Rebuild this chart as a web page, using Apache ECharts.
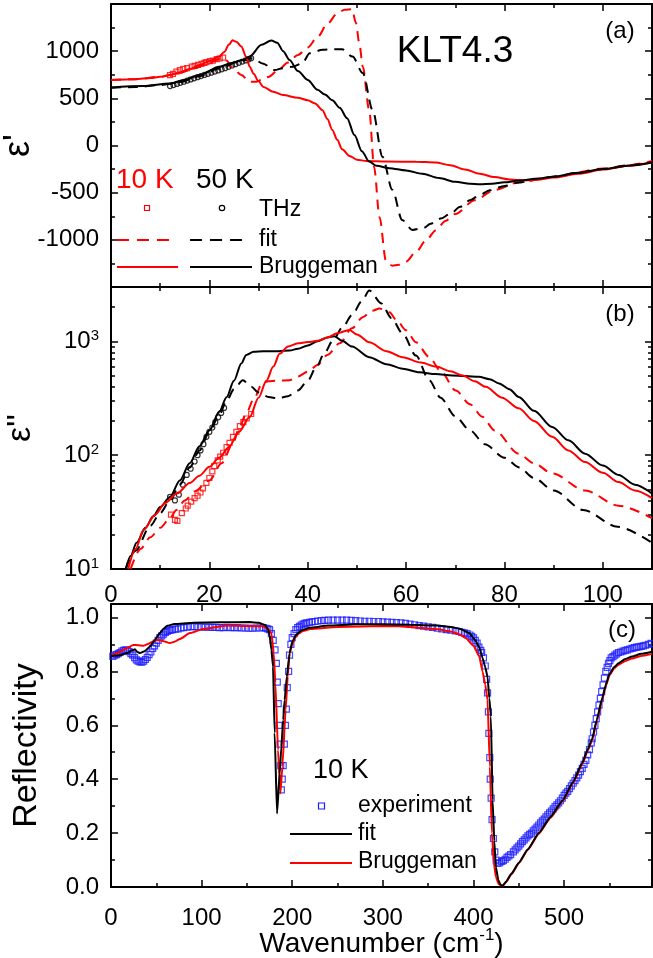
<!DOCTYPE html>
<html>
<head>
<meta charset="utf-8">
<script src="https://cdn.jsdelivr.net/npm/echarts@6/dist/echarts.min.js"></script>
<style>
html, body { margin: 0; padding: 0; background: #fff; }
#chart { width: 653px; height: 958px; }
</style>
</head>
<body>
<div id="chart"></div>
<script>
// ---- (a) epsilon' : [wavenumber, value]
var epsReBrug10K = [[0,695],[5,703],[8,715],[10,728],[12,748],[14,775],[16,810],[18,854],[20,895],[22,943],[23,990],[24,1070],[24.7,1115],[25.5,1100],[26.5,1050],[27.5,940],[28.2,836],[29,760],[30,680],[31,620],[33,570],[35,535],[38,505],[40,480],[41.5,445],[43,375],[44,280],[45,165],[46,60],[47,-40],[48.5,-110],[50,-150],[52,-165],[56,-170],[62,-172],[66,-180],[69,-210],[72,-255],[75,-300],[78,-335],[81,-360],[84,-370],[87,-362],[90,-340],[95,-300],[100,-255],[105,-215],[110,-178]];
var epsReBrug50K = [[0,616],[6.5,631],[12,658],[15,695],[18,748],[22,836],[24.5,875],[26.8,907],[28.2,943],[30.6,1067],[32.6,1113],[33.8,1090],[35,1000],[36.3,907],[38,790],[40,695],[42,590],[43.5,540],[45,480],[46.5,400],[48,290],[49.5,110],[51,-60],[52.5,-170],[54,-215],[56.6,-240],[60,-265],[63.3,-300],[66.7,-345],[70,-385],[73,-405],[75,-410],[77.5,-405],[80,-390],[83,-372],[87,-350],[90,-330],[95,-290],[100,-250],[105,-215],[110,-180]];
var epsReFit10K = [[0,695],[5,703],[10,728],[14,770],[17,820],[20,880],[22.7,930],[23.5,900],[24.5,835],[26.5,748],[28.2,677],[29.5,675],[30.6,695],[32,727],[34,800],[36,880],[38,960],[40,1040],[42,1150],[44,1290],[46,1400],[47.5,1440],[49,1445],[49.8,1300],[50.5,1080],[51.2,835],[52.5,375],[53.5,-230],[54.6,-760],[55.9,-1220],[57.2,-1275],[58.5,-1265],[60,-1230],[62,-1130],[64,-1010],[66,-900],[68,-800],[70,-725],[74,-580],[78,-470],[83,-390],[90,-330],[100,-245],[110,-165]];
var epsReFit50K = [[0,612],[5,620],[10,640],[14,672],[18,735],[22,815],[26,890],[28.8,925],[30.8,870],[33.3,800],[34.9,820],[37,836],[38.9,872],[40.4,978],[43,1015],[45,1020],[47,1020],[49.1,943],[51.2,768],[53.2,375],[55.2,-120],[57.2,-470],[59.2,-790],[61.3,-895],[63.5,-875],[65,-830],[67,-775],[69,-725],[71,-650],[73,-580],[75,-525],[77,-475],[80,-430],[83,-392],[87,-355],[90,-330],[95,-290],[100,-250],[105,-212],[110,-175]];
var epsReTHz10K = [[12.0,745],[12.6,760],[13.3,783],[14.0,800],[14.7,812],[15.5,820],[16.4,836],[17.0,844],[17.7,854],[18.4,866],[19.0,876],[19.4,883],[20.1,894],[20.7,900],[21.5,915],[22.1,922],[22.8,932]];
var epsReTHz50K = [[12,630],[12.7,641],[13.4,653],[14.1,664],[14.8,676],[15.5,688],[16.2,700],[16.9,712],[17.6,724],[18.3,736],[19,748],[19.7,760],[20.4,772],[21.1,784],[21.8,796],[22.5,807],[23.2,820],[23.9,834],[24.6,848],[25.3,862],[26,876],[26.7,890],[27.4,902],[28,913],[28.5,925]];

// ---- (b) epsilon'' : [wavenumber, value]
var epsImBrug10K = [[3.5,10],[5,15],[6.6,22],[9,30],[11,38],[13.4,46],[16,57],[18,66],[20,79],[22,95],[24,118],[26,160],[28.2,216],[30,320],[31.6,450],[33,600],[34.3,780],[36,900],[38,960],[40,985],[42,1010],[44,1080],[46,1180],[48.5,1260],[50,1150],[52.5,980],[56,820],[59.3,725],[63,650],[66.1,600],[69,545],[71.5,500],[74,445],[76.2,398],[79.5,320],[82.9,258],[86,200],[89.7,145],[93,110],[96.4,87],[100,70],[103.2,58],[106.5,49],[110,42]];
var epsImBrug50K = [[3,10],[4,13],[5.2,17],[7,23],[8.6,29],[10,35],[12,43],[14,60],[16,85],[18,120],[20,165],[22,240],[23.5,323],[25,450],[26.5,640],[27.5,760],[29,810],[31,820],[34,820],[36.3,830],[38,860],[40,920],[42,1000],[44,1080],[45.4,1110],[47,1010],[49,900],[52.5,725],[56,630],[59.3,575],[62.7,535],[66,515],[69.4,500],[72,495],[74.8,488],[77,465],[78.9,427],[81,380],[82.9,325],[86,245],[89.7,177],[93,135],[96.4,103],[100,81],[103.2,67],[106.5,55],[110,46]];
var epsImFit10K = [[4,10],[6,15],[8,19],[10,23],[12,28],[13.3,33],[15,40],[17,48],[20,60],[22.5,85],[24.8,127],[26,170],[27.5,233],[29,310],[30.8,430],[32,445],[33.7,450],[36.3,455],[38,490],[40,540],[42,620],[44,760],[46.5,960],[49,1300],[51.2,1630],[53,1850],[54.6,1940],[56.6,1800],[58,1550],[60,1250],[62,980],[64.7,730],[67,550],[70.1,370],[73,280],[75.5,217],[78,165],[82.9,103],[86,85],[89.7,69],[96.4,49],[103.2,36],[110,28]];
var epsImFit50K = [[3,10],[5,14.5],[8,24],[10,31],[12,40],[14,55],[16,78],[18,110],[20,160],[22,225],[23.5,300],[25,380],[26.8,455],[28.5,400],[30,355],[32,325],[34,315],[36,330],[38,370],[40,450],[41.7,590],[43.5,800],[45,1000],[47.1,1330],[49,1700],[51,2250],[52.5,2800],[55,2150],[57,1600],[59.3,1170],[62,750],[64.7,455],[67,320],[70,220],[73,165],[76,125],[80,95],[83,78],[86,63],[90,49],[96,33],[103,23.5],[110,17]];
var epsImTHz10K = [[12.2,30],[13.0,27],[13.5,26.5],[14.4,31],[15.2,34],[15.6,36],[16.3,39],[17,42],[17.6,44],[18.2,47],[18.7,51],[19.4,57],[20,63],[20.6,72],[21,80],[21.7,90],[22.2,97],[22.8,105],[23.5,118],[24.1,128],[24.8,145],[25.5,160],[26.2,180],[26.9,195],[27.6,210],[28.5,230]];
var epsImTHz50K = [[12,43],[13,40],[13.8,45],[14.6,55],[15.4,67],[16.2,76],[17,88],[17.6,100],[18.2,110],[18.8,125],[19.4,145],[20,160],[20.6,175],[21.2,195],[21.8,215],[22.4,235],[23,260]];

// ---- (c) reflectivity : [wavenumber, R]
var reflFit = [[0,0.857],[10,0.86],[18,0.868],[23,0.878],[26.4,0.882],[29,0.872],[32,0.868],[37,0.875],[43,0.892],[48,0.915],[54,0.942],[58,0.958],[62,0.969],[70,0.976],[90,0.98],[120,0.982],[153,0.983],[163,0.98],[170,0.972],[173,0.958],[175,0.935],[177,0.88],[178.8,0.818],[180.6,0.571],[183.2,0.273],[186.1,0.42],[188,0.52],[190,0.62],[191.6,0.694],[194,0.78],[197.1,0.868],[200,0.91],[204,0.935],[210,0.952],[219,0.962],[240,0.97],[270,0.975],[300,0.975],[330,0.973],[360,0.97],[375,0.965],[385,0.958],[395,0.943],[401,0.92],[406.4,0.89],[410,0.85],[413,0.815],[415.5,0.78],[417.5,0.7],[419.2,0.632],[421.1,0.322],[423,0.17],[424.7,0.074],[427.5,0.025],[430,0.008],[432,0.004],[436,0.02],[442,0.05],[450,0.09],[460,0.14],[472,0.2],[485,0.26],[498,0.32],[510,0.39],[520,0.46],[526,0.51],[531,0.55],[536,0.62],[542,0.7],[546,0.75],[550,0.79],[555,0.815],[560,0.83],[567,0.845],[575,0.855],[585,0.865],[597,0.873]];
var reflBrug = [[0,0.857],[8,0.87],[17.3,0.886],[24.6,0.898],[30,0.897],[35.6,0.895],[41,0.902],[46.6,0.911],[52.1,0.917],[58,0.912],[65,0.905],[70,0.91],[76,0.92],[87,0.942],[101.7,0.957],[128,0.97],[150,0.968],[167.7,0.967],[173,0.958],[177,0.942],[179.5,0.87],[181.4,0.757],[184.3,0.508],[186.9,0.347],[189.1,0.446],[192.7,0.657],[195,0.78],[197.1,0.868],[200,0.9],[203,0.925],[207,0.94],[212,0.95],[220,0.957],[250,0.965],[300,0.968],[318,0.967],[340,0.962],[360,0.956],[375,0.948],[385,0.937],[391.7,0.923],[400,0.895],[406.4,0.855],[410,0.8],[413,0.75],[415.5,0.694],[418.1,0.446],[420.3,0.2],[422.5,0.09],[424.7,0.037],[428,0.01],[432,0.003],[436,0.018],[442,0.048],[450,0.088],[460,0.138],[472,0.197],[485,0.257],[498,0.317],[510,0.386],[520,0.455],[526,0.505],[531,0.545],[536,0.615],[542,0.695],[546,0.745],[550,0.785],[555,0.81],[560,0.825],[567,0.838],[575,0.848],[585,0.857],[597,0.865]];
var reflExp = [[2,0.856],[4,0.86],[6,0.862],[8,0.866],[10,0.87],[12,0.875],[14,0.878],[16,0.88],[18,0.878],[20,0.873],[22,0.866],[24,0.86],[26,0.851],[28,0.843],[30,0.838],[32,0.835],[34,0.834],[36,0.838],[38,0.844],[40,0.852],[42,0.862],[44,0.872],[46,0.885],[48,0.895],[50,0.905],[52,0.915],[54,0.925],[56,0.932],[58,0.938],[60,0.945],[62,0.948],[64,0.952],[66,0.953],[68,0.955],[71,0.957],[74,0.958],[77,0.961],[80,0.962],[84,0.964],[88,0.966],[92,0.966],[96,0.965],[100,0.965],[104,0.964],[108,0.964],[112,0.963],[116,0.963],[120,0.962],[124,0.962],[128,0.963],[132,0.962],[136,0.962],[140,0.962],[144,0.961],[148,0.961],[152,0.96],[156,0.96],[160,0.961],[164,0.961],[168,0.962],[171,0.96],[173,0.958],[175,0.955],[177,0.94],[179,0.915],[181,0.88],[182.5,0.83],[183.5,0.76],[184.5,0.68],[185.5,0.6],[186.5,0.53],[187.3,0.45],[188,0.36],[189,0.4],[190,0.45],[191.3,0.53],[192.5,0.6],[193.5,0.66],[194.5,0.74],[196,0.8],[197,0.86],[198.5,0.9],[200,0.925],[202,0.94],[204,0.955],[206,0.962],[208,0.967],[210,0.972],[212,0.975],[214,0.978],[216,0.98],[219,0.982],[222,0.984],[225,0.985],[228,0.987],[232,0.988],[236,0.989],[240,0.99],[245,0.99],[250,0.99],[255,0.99],[260,0.99],[265,0.989],[270,0.988],[275,0.987],[280,0.986],[285,0.986],[290,0.985],[295,0.985],[300,0.984],[305,0.983],[310,0.982],[315,0.981],[320,0.98],[325,0.978],[330,0.975],[335,0.973],[340,0.97],[345,0.968],[350,0.965],[355,0.963],[360,0.96],[365,0.958],[370,0.955],[375,0.953],[380,0.95],[384,0.948],[387,0.945],[390,0.943],[393,0.94],[396,0.935],[398,0.93],[400,0.924],[402,0.915],[404,0.905],[406,0.89],[408,0.878],[409,0.87],[411,0.85],[413,0.82],[414.5,0.77],[415.5,0.72],[416.5,0.65],[417,0.57],[418,0.48],[418.5,0.4],[419.5,0.33],[420.5,0.25],[422,0.18],[423.5,0.13],[425,0.1],[427,0.088],[429,0.09],[431,0.095],[433,0.098],[435,0.103],[437,0.11],[439,0.115],[441,0.12],[444,0.13],[446,0.138],[448,0.145],[450,0.152],[452,0.16],[454,0.168],[456,0.175],[458,0.182],[460,0.19],[462,0.195],[464,0.2],[466,0.208],[468,0.215],[470,0.222],[472,0.23],[474,0.238],[476,0.245],[478,0.252],[480,0.26],[482,0.268],[484,0.275],[486,0.282],[488,0.29],[490,0.298],[492,0.305],[494,0.312],[496,0.32],[498,0.33],[500,0.34],[502,0.348],[504,0.355],[506,0.365],[508,0.375],[510,0.385],[512,0.395],[514,0.405],[516,0.415],[518,0.428],[520,0.44],[522,0.455],[524,0.47],[526,0.49],[528,0.51],[530,0.535],[531,0.55],[532.5,0.575],[534,0.6],[535.5,0.625],[537,0.65],[538.5,0.675],[540,0.7],[541.5,0.725],[543,0.75],[544.5,0.775],[546,0.8],[547.5,0.815],[549,0.83],[550.5,0.84],[552,0.85],[554,0.855],[556,0.86],[558,0.865],[560,0.87],[562.5,0.872],[565,0.875],[567.5,0.878],[570,0.88],[572.5,0.883],[575,0.885],[577.5,0.888],[580,0.89],[582.5,0.891],[585,0.893],[587.5,0.895],[590,0.897],[593,0.9],[596,0.904]];

// log axis ticks for (b)
var logMajorTicks = [10, 100, 1000];
var logMinorTicks = [20,30,40,50,60,70,80,90,200,300,400,500,600,700,800,900,2000,3000];

var FONT = '"Liberation Sans", Arial, sans-serif';
var RED = '#ff0000', BLACK = '#000000', BLUE = '#1a1aff';

function axis(gridIndex, position, min, max, interval, label) {
    return {
        type: 'value', gridIndex: gridIndex, position: position,
        min: min, max: max, interval: interval,
        nameMoveOverlap: false,
        axisLine: { show: true, onZero: false, lineStyle: { color: '#000', width: 2 } },
        axisTick: { show: true, inside: true, length: 7, lineStyle: { color: '#000', width: 1.5 } },
        minorTick: { show: true, splitNumber: 2, length: 4, lineStyle: { color: '#000', width: 1.5 } },
        axisLabel: label ? Object.assign({ show: true, color: '#000', fontSize: 24, fontFamily: FONT, margin: 12, showMaxLabel: false }, label) : { show: false },
        splitLine: { show: false }
    };
}

function logAxis(position, ticks, len, label) {
    return {
        type: 'log', gridIndex: 1, position: position, min: 10, max: 3000, logBase: 10,
        nameMoveOverlap: false,
        axisLine: { show: true, onZero: false, lineStyle: { color: '#000', width: 2 } },
        axisTick: { show: true, inside: true, length: len, customValues: ticks, lineStyle: { color: '#000', width: 1.5 } },
        minorTick: { show: false },
        axisLabel: label ? {
            show: true, customValues: logMajorTicks, color: '#000', fontFamily: FONT, margin: 12,
            formatter: function (v) { return '{b|10}{s|' + Math.round(Math.log10(v)) + '}'; },
            rich: {
                b: { fontSize: 24, fontFamily: FONT, color: '#000', lineHeight: 26 },
                s: { fontSize: 15, fontFamily: FONT, color: '#000', verticalAlign: 'top', lineHeight: 15 }
            }
        } : { show: false },
        splitLine: { show: false }
    };
}

var xAxes = [
    axis(0, 'bottom', 0, 110, 20, null),
    axis(0, 'top', 0, 110, 20, null),
    axis(1, 'bottom', 0, 110, 20, { margin: 14 }),
    axis(1, 'top', 0, 110, 20, null),
    Object.assign(axis(2, 'bottom', 0, 597, 100, { margin: 19 }), {
        name: '{t|Wavenumber (cm}{s|-1}{t|)}', nameLocation: 'middle', nameGap: 40,
        nameTextStyle: { rich: {
            t: { fontSize: 28, fontFamily: FONT, color: '#000', lineHeight: 34 },
            s: { fontSize: 17, fontFamily: FONT, color: '#000', verticalAlign: 'top', lineHeight: 17 }
        } }
    }),
    axis(2, 'top', 0, 597, 100, null)
];

var yA = axis(0, 'left', -1500, 1500, 500, {
    showMaxLabel: true,
    formatter: function (v) { return Math.abs(v) === 1500 ? '' : String(v); }
});
yA.name = "ε'"; yA.nameLocation = 'middle'; yA.nameGap = 74;
yA.nameTextStyle = { fontSize: 36, fontFamily: FONT, color: '#000' };

var yB = logAxis('left', logMajorTicks, 7, true);
yB.name = "ε''"; yB.nameLocation = 'middle'; yB.nameGap = 73;
yB.nameTextStyle = { fontSize: 34, fontFamily: FONT, color: '#000' };

var yC = axis(2, 'left', 0, 1.05, 0.2, { formatter: function (v) { return v.toFixed(1); } });
yC.name = 'Reflectivity'; yC.nameLocation = 'middle'; yC.nameGap = 67;
yC.nameTextStyle = { fontSize: 34, fontFamily: FONT, color: '#000' };

var yAxes = [
    yA,
    axis(0, 'right', -1500, 1500, 500, null),
    yB,
    logAxis('left', logMinorTicks, 4, false),
    logAxis('right', logMajorTicks, 7, false),
    logAxis('right', logMinorTicks, 4, false),
    yC,
    axis(2, 'right', 0, 1.05, 0.2, null)
];

function line(data, xi, yi, color, dashed) {
    return {
        type: 'line', data: data, xAxisIndex: xi, yAxisIndex: yi,
        showSymbol: false, smooth: 0.3, smoothMonotone: 'x',
        lineStyle: { color: color, width: 2, type: dashed ? [10, 7] : 'solid' },
        silent: true
    };
}
function dots(data, xi, yi, color, symbol, size) {
    return {
        type: 'scatter', data: data, xAxisIndex: xi, yAxisIndex: yi,
        symbol: symbol, symbolSize: size,
        itemStyle: { color: 'transparent', borderColor: color, borderWidth: 1.2 },
        silent: true
    };
}

var series = [
    line(epsReFit10K, 0, 0, RED, true),
    line(epsReFit50K, 0, 0, BLACK, true),
    line(epsReBrug10K, 0, 0, RED, false),
    line(epsReBrug50K, 0, 0, BLACK, false),
    dots(epsReTHz10K, 0, 0, RED, 'rect', 5),
    dots(epsReTHz50K, 0, 0, BLACK, 'circle', 5),

    line(epsImFit10K, 2, 2, RED, true),
    line(epsImFit50K, 2, 2, BLACK, true),
    line(epsImBrug50K, 2, 2, BLACK, false),
    line(epsImBrug10K, 2, 2, RED, false),
    dots(epsImTHz10K, 2, 2, RED, 'rect', 5),
    dots(epsImTHz50K, 2, 2, BLACK, 'circle', 5),

    dots(reflExp, 4, 6, BLUE, 'rect', 6),
    line(reflBrug, 4, 6, RED, false),
    line(reflFit, 4, 6, BLACK, false)
];
series[13].smooth = 0.15;
series[14].smooth = 0.15;

function txt(x, y, s, size, color, align) {
    return { type: 'text', x: x, y: y, z: 100,
        style: { text: s, fill: color || '#000', font: size + 'px ' + FONT,
                 textAlign: align || 'left', textVerticalAlign: 'middle' } };
}
function seg(x1, x2, y, color, dashed) {
    return { type: 'line', z: 100, shape: { x1: x1, y1: y, x2: x2, y2: y },
        style: { stroke: color, lineWidth: 2, lineDash: dashed ? [12, 8] : null } };
}

var graphics = [
    txt(455, 52, 'KLT4.3', 37, BLACK, 'center'),
    txt(620, 31, '(a)', 24, BLACK, 'center'),
    txt(620, 314, '(b)', 24, BLACK, 'center'),
    txt(622, 630, '(c)', 24, BLACK, 'center'),
    // legend (a)
    txt(116, 180, '10 K', 28, RED),
    txt(196, 180, '50 K', 28, BLACK),
    { type: 'rect', z: 100, shape: { x: 144.5, y: 205.5, width: 5, height: 5 }, style: { fill: 'none', stroke: RED, lineWidth: 1.2 } },
    { type: 'circle', z: 100, shape: { cx: 222, cy: 208, r: 2.7 }, style: { fill: 'none', stroke: BLACK, lineWidth: 1.2 } },
    txt(259, 210, 'THz', 23, BLACK),
    seg(117, 172, 240, RED, true),
    seg(190, 245, 240, BLACK, true),
    txt(259, 240, 'fit', 23, BLACK),
    seg(117, 178, 267, RED, false),
    seg(190, 252, 267, BLACK, false),
    txt(259, 267, 'Bruggeman', 23, BLACK),
    // legend (c)
    txt(313, 771, '10 K', 27, BLACK),
    { type: 'rect', z: 100, shape: { x: 318.5, y: 803, width: 6, height: 6 }, style: { fill: 'none', stroke: BLUE, lineWidth: 1.2 } },
    txt(358, 806, 'experiment', 23, BLACK),
    seg(290, 352, 834, BLACK, false),
    txt(358, 834, 'fit', 23, BLACK),
    seg(290, 352, 863, RED, false),
    txt(358, 862, 'Bruggeman', 23, BLACK)
];

var chart = echarts.init(document.getElementById('chart'));
chart.setOption({
    animation: false,
    backgroundColor: '#fff',
    textStyle: { fontFamily: FONT },
    grid: [
        { left: 111, top: 4, width: 541, height: 283, outerBoundsMode: 'none' },
        { left: 111, top: 287, width: 541, height: 282, outerBoundsMode: 'none' },
        { left: 111, top: 604, width: 541, height: 283, outerBoundsMode: 'none' }
    ],
    xAxis: xAxes,
    yAxis: yAxes,
    series: series,
    graphic: graphics
});

window.addEventListener('resize', function () { chart.resize(); });
</script>
</body>
</html>
